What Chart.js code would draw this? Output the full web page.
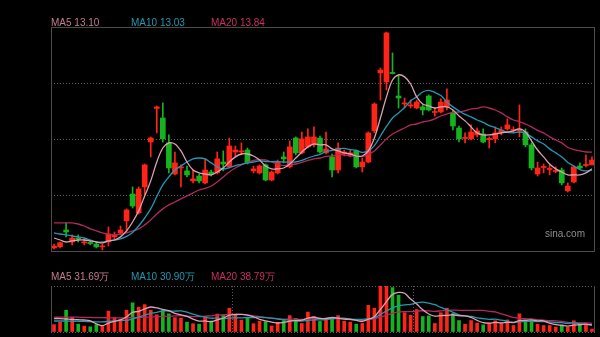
<!DOCTYPE html>
<html>
<head>
<meta charset="utf-8">
<script src="https://cdn.jsdelivr.net/npm/chart.js@4.4.1/dist/chart.umd.min.js"></script>
<style>
  html, body { margin: 0; padding: 0; background: #000; width: 600px; height: 337px; overflow: hidden; }
  #wrap { position: relative; width: 600px; height: 337px; background: #000; }
  .box { position: absolute; left: 0; width: 600px; }
  .lbl { position: absolute; font: 10px "Liberation Sans", Arial, sans-serif; line-height: 10px; white-space: nowrap; }
</style>
</head>
<body>
<div id="wrap">
  <div class="box" style="top:0;height:260px"><canvas id="kline"></canvas></div>
  <div class="box" style="top:260px;height:77px"><canvas id="volume"></canvas></div>

  <div class="lbl" style="left:51px;top:17.5px;color:#c27c8d">MA5 13.10</div>
  <div class="lbl" style="left:131px;top:17.5px;color:#2298b0">MA10 13.03</div>
  <div class="lbl" style="left:211px;top:17.5px;color:#c82f66">MA20 13.84</div>

  <div class="lbl" style="left:51px;top:271.5px;color:#c27c8d">MA5 31.69万</div>
  <div class="lbl" style="left:131px;top:271.5px;color:#2298b0">MA10 30.90万</div>
  <div class="lbl" style="left:211px;top:271.5px;color:#c82f66">MA20 38.79万</div>

  <div class="lbl" style="left:545px;top:228.5px;color:#8e8e8e">sina.com</div>
</div>

<script>
// ---- daily prices (90 sessions) ----
const opens = [
  9.53, 9.59, 10.34, 9.80, 9.98, 9.76, 9.78, 9.71, 9.58, 9.80,
  10.03, 10.21, 10.75, 11.96, 11.11, 12.28, 14.30, 15.81, 15.38, 14.26,
  12.86, 13.13, 13.00, 12.55, 12.77, 12.46, 12.95, 12.91, 13.40, 13.18,
  13.85, 13.85, 13.94, 13.00, 12.91, 13.27, 12.59, 12.91, 13.63, 13.18,
  14.48, 13.81, 14.08, 14.17, 14.48, 13.81, 13.63, 13.04, 13.76, 13.72,
  13.90, 13.18, 13.40, 14.80, 17.41, 17.00, 17.43, 16.37, 16.01, 15.92,
  15.83, 15.88, 16.37, 15.63, 15.65, 15.88, 15.61, 14.93, 14.46, 14.44,
  14.62, 14.66, 14.41, 14.44, 14.71, 14.89, 14.82, 14.80, 14.75, 14.17,
  12.86, 13.15, 13.06, 12.97, 13.04, 12.10, 12.50, 13.22, 13.24, 13.27
];
const closes = [
  9.62, 9.77, 10.25, 9.98, 9.94, 9.80, 9.73, 9.58, 9.60, 10.16,
  10.12, 10.34, 11.24, 11.42, 12.19, 13.27, 14.48, 15.88, 14.44, 13.13,
  13.36, 13.18, 12.82, 12.64, 12.55, 13.04, 12.86, 13.54, 13.31, 14.12,
  13.94, 13.90, 13.36, 13.09, 13.22, 12.59, 12.95, 13.40, 13.54, 14.08,
  13.81, 14.44, 14.53, 14.53, 13.85, 13.99, 13.04, 14.03, 13.85, 13.81,
  13.18, 13.40, 14.71, 16.01, 17.54, 19.21, 17.38, 16.28, 16.06, 15.97,
  16.10, 15.74, 15.74, 15.67, 16.10, 16.19, 15.02, 14.44, 14.50, 14.75,
  14.80, 14.30, 14.46, 14.71, 14.84, 15.07, 14.86, 14.89, 14.17, 13.13,
  13.13, 13.20, 13.11, 13.02, 12.46, 12.32, 13.18, 13.13, 13.29, 13.49
];
const highs = [
  9.71, 9.80, 10.66, 10.12, 10.12, 9.94, 9.89, 9.76, 9.71, 10.48,
  10.25, 10.52, 11.29, 12.28, 12.28, 13.31, 14.53, 15.92, 16.06, 14.62,
  13.85, 13.27, 13.22, 13.04, 12.86, 13.54, 13.04, 13.85, 13.90, 14.48,
  14.12, 14.26, 14.03, 13.22, 13.27, 13.31, 13.00, 13.49, 13.85, 14.35,
  14.53, 14.75, 14.89, 14.98, 14.57, 14.75, 13.76, 14.26, 13.94, 13.94,
  13.94, 13.58, 14.75, 16.06, 17.63, 19.25, 18.31, 17.32, 16.28, 16.19,
  16.19, 15.97, 16.42, 15.83, 16.24, 16.69, 15.74, 15.02, 14.71, 15.07,
  14.93, 14.89, 14.53, 14.98, 14.98, 15.34, 14.98, 15.97, 14.89, 14.26,
  13.40, 13.31, 13.27, 13.18, 13.13, 12.46, 13.22, 13.36, 13.72, 13.63
];
const lows = [
  9.49, 9.53, 10.03, 9.67, 9.80, 9.67, 9.67, 9.53, 9.44, 9.62,
  9.94, 10.12, 10.25, 11.33, 11.06, 11.92, 13.63, 14.71, 14.30, 12.91,
  12.82, 12.28, 12.73, 12.46, 12.46, 12.41, 12.77, 12.86, 13.00, 13.13,
  13.63, 13.72, 13.31, 12.91, 12.86, 12.55, 12.55, 12.86, 13.36, 13.13,
  13.72, 13.76, 14.03, 14.08, 13.81, 13.76, 12.73, 12.91, 13.67, 13.63,
  13.13, 12.95, 13.36, 14.71, 16.19, 16.64, 17.36, 15.83, 15.83, 15.83,
  15.79, 15.52, 15.70, 15.47, 15.61, 15.74, 14.84, 14.30, 14.26, 14.39,
  14.53, 14.26, 14.03, 14.26, 14.62, 14.84, 14.71, 14.53, 14.08, 13.04,
  12.77, 12.91, 12.82, 12.91, 12.37, 12.05, 12.46, 13.09, 13.18, 13.27
];

// ---- price moving averages ----
const ma5 = [
  9.98, 9.89, 9.80, 9.85, 9.89, 9.89, 9.85, 9.80, 9.76, 9.85,
  9.89, 10.03, 10.30, 10.70, 11.20, 11.87, 12.55, 13.40, 14.03, 14.26,
  14.21, 13.90, 13.40, 13.04, 12.91, 12.86, 12.82, 12.95, 13.13, 13.40,
  13.63, 13.76, 13.76, 13.67, 13.49, 13.22, 13.09, 13.09, 13.13, 13.31,
  13.58, 13.85, 14.08, 14.21, 14.17, 14.17, 13.99, 13.90, 13.81, 13.76,
  13.67, 13.67, 13.90, 14.48, 15.38, 16.33, 17.09, 17.32, 17.23, 16.91,
  16.33, 16.01, 15.92, 15.83, 15.88, 15.88, 15.74, 15.47, 15.25, 14.98,
  14.71, 14.62, 14.62, 14.66, 14.71, 14.75, 14.80, 14.89, 14.75, 14.35,
  13.94, 13.63, 13.31, 13.09, 12.95, 12.82, 12.82, 12.82, 12.91, 13.10
];
const ma10 = [
  10.21, 10.16, 10.12, 10.07, 10.03, 9.98, 9.89, 9.80, 9.80, 9.85,
  9.89, 9.94, 10.05, 10.23, 10.52, 10.88, 11.29, 11.85, 12.37, 12.73,
  13.04, 13.22, 13.40, 13.54, 13.58, 13.54, 13.36, 13.18, 13.09, 13.15,
  13.24, 13.29, 13.36, 13.40, 13.45, 13.42, 13.42, 13.42, 13.40, 13.40,
  13.40, 13.47, 13.58, 13.67, 13.74, 13.87, 13.92, 13.99, 14.01, 13.96,
  13.92, 13.83, 13.90, 14.14, 14.57, 15.00, 15.38, 15.61, 15.85, 16.15,
  16.33, 16.55, 16.62, 16.53, 16.39, 16.10, 15.88, 15.70, 15.54, 15.43,
  15.29, 15.18, 15.04, 14.95, 14.84, 14.73, 14.71, 14.75, 14.71, 14.53,
  14.35, 14.21, 13.99, 13.81, 13.63, 13.38, 13.22, 13.06, 13.00, 13.03
];
const ma20 = [
  10.66, 10.66, 10.66, 10.66, 10.61, 10.52, 10.39, 10.30, 10.21, 10.16,
  10.12, 10.16, 10.21, 10.30, 10.39, 10.57, 10.79, 11.06, 11.29, 11.47,
  11.60, 11.74, 11.87, 12.01, 12.14, 12.21, 12.32, 12.50, 12.73, 12.95,
  13.13, 13.27, 13.38, 13.47, 13.51, 13.49, 13.40, 13.31, 13.24, 13.27,
  13.31, 13.38, 13.47, 13.54, 13.58, 13.65, 13.67, 13.72, 13.72, 13.67,
  13.67, 13.65, 13.74, 13.90, 14.17, 14.44, 14.66, 14.80, 14.93, 15.07,
  15.11, 15.20, 15.25, 15.34, 15.47, 15.56, 15.63, 15.65, 15.70, 15.79,
  15.81, 15.88, 15.83, 15.74, 15.61, 15.43, 15.29, 15.22, 15.11, 14.98,
  14.82, 14.71, 14.53, 14.39, 14.26, 14.05, 13.96, 13.90, 13.85, 13.84
];

// ---- volume, in 万 shares ----
const volumes = [
  33, 43, 97, 66, 35, 26, 23, 33, 25, 93,
  64, 56, 97, 130, 111, 122, 97, 77, 97, 81,
  64, 62, 44, 37, 35, 68, 49, 80, 74, 106,
  80, 53, 64, 37, 48, 46, 27, 43, 51, 73,
  60, 38, 89, 69, 47, 58, 60, 73, 48, 44,
  35, 38, 119, 106, 205, 210, 198, 164, 86, 75,
  100, 69, 72, 38, 86, 106, 82, 51, 35, 51,
  40, 32, 40, 50, 40, 54, 29, 81, 54, 51,
  35, 29, 29, 22, 32, 21, 50, 37, 35, 13
];
const volMa5 = [
  60, 60, 58, 56, 54.8, 53.4, 49.4, 36.6, 28.4, 40,
  47.6, 54.2, 67, 88, 91.6, 103.2, 111.4, 107.4, 100.8, 94.8,
  83.2, 76.2, 69.6, 57.6, 48.4, 49.2, 46.6, 53.8, 61.2, 75.4,
  77.8, 78.6, 75.4, 68, 56.4, 49.6, 44.4, 40.2, 43, 48,
  50.8, 53, 62.2, 65.8, 60.6, 60.2, 64.6, 61.4, 57.2, 56.6,
  52, 47.6, 56.8, 68.4, 100.6, 135.6, 167.6, 176.6, 172.6, 146.6,
  124.6, 98.8, 80.4, 70.8, 73, 74.2, 76.8, 72.6, 72, 65,
  51.8, 41.8, 39.6, 42.6, 40.4, 43.2, 42.6, 50.8, 51.6, 53.8,
  50, 50, 39.6, 33.2, 29.4, 26.6, 30.8, 32.4, 35, 31.69
];
const volMa10 = [
  49, 49, 49, 48, 48, 47, 46, 45, 45, 47.4,
  50.5, 51.8, 51.8, 58.2, 65.8, 75.4, 82.8, 87.2, 94.4, 93.2,
  93.2, 93.8, 88.5, 79.2, 71.6, 66.2, 61.4, 61.7, 59.4, 61.9,
  63.5, 62.6, 64.6, 64.6, 65.9, 63.7, 61.5, 57.8, 55.5, 52.2,
  50.2, 48.7, 51.2, 54.4, 54.3, 55.5, 58.8, 61.8, 61.5, 58.6,
  56.1, 56.1, 59.1, 62.8, 78.6, 93.8, 107.6, 116.7, 120.5, 123.6,
  130.1, 133.2, 128.5, 121.7, 109.8, 99.4, 87.8, 76.5, 71.4, 69,
  63, 59.3, 56.1, 57.3, 52.7, 47.5, 42.2, 45.2, 47.1, 47.1,
  46.6, 46.3, 45.2, 42.4, 41.6, 38.3, 40.4, 36, 34.1, 30.9
];
const volMa20 = [
  66, 66, 66, 66, 66, 65, 65, 64, 64, 63,
  63, 63, 63, 64, 65, 66, 67, 68, 69, 70.3,
  71.9, 72.8, 70.2, 68.7, 68.7, 70.8, 72.1, 74.5, 76.9, 77.6,
  78.4, 78.2, 76.6, 71.9, 68.8, 65, 61.5, 59.8, 57.5, 57.1,
  56.9, 55.7, 57.9, 59.5, 60.1, 59.6, 60.2, 59.8, 58.5, 55.4,
  53.2, 52.4, 55.2, 58.6, 66.5, 74.7, 83.2, 89.3, 91, 91.1,
  93.1, 94.7, 93.8, 92.3, 94.2, 96.6, 97.7, 96.6, 96, 96.3,
  96.6, 96.3, 92.3, 89.5, 81.3, 73.5, 65, 60.9, 59.3, 58.1,
  54.8, 52.8, 50.7, 49.9, 47.2, 42.9, 41.3, 40.6, 40.6, 38.79
];

// session labels (not displayed)
const sessions = opens.map((_, i) => 'D' + (i + 1));
// month boundaries marked in the volume panel
const monthStarts = [30, 60];

const RED = '#ff2417';
const GREEN = '#15b41e';
const C_MA5 = '#dba2b4';
const C_MA10 = '#2199b3';
const C_MA20 = '#b12a5f';
const GRID = '#5c5c5c';
const FRAME = '#4c4c4c';

const candleColor = closes.map((c, i) => (c >= opens[i] ? RED : GREEN));
const wickData = lows.map((l, i) => [l, highs[i]]);
const bodyData = opens.map((o, i) => [o, closes[i]]);

Chart.defaults.animation = false;
Chart.defaults.devicePixelRatio = 1;

// border of each panel: solid sides, optional solid top/bottom
const panelFrame = {
  id: 'panelFrame',
  afterDatasetsDraw(chart, args, opts) {
    const { ctx, chartArea: a } = chart;
    const l = Math.round(a.left) + 0.5;
    const r = Math.round(a.right) - 0.5;
    const t = Math.round(a.top) + 0.5;
    const b = Math.round(a.bottom) - 0.5;
    ctx.save();
    ctx.strokeStyle = opts.color || FRAME;
    ctx.lineWidth = 1;
    ctx.beginPath();
    ctx.moveTo(l, t - 0.5); ctx.lineTo(l, b + 0.5);
    ctx.moveTo(r, t - 0.5); ctx.lineTo(r, b + 0.5);
    if (opts.full) {
      ctx.moveTo(l, t); ctx.lineTo(r, t);
      ctx.moveTo(l, b); ctx.lineTo(r, b);
    }
    ctx.stroke();
    ctx.restore();
  }
};

const lineSet = (data, color, order) => ({
  type: 'line',
  data,
  borderColor: color,
  borderWidth: 1.3,
  pointRadius: 0,
  tension: 0.35,
  fill: false,
  order
});

// ---- price panel ----
const PRICE_MIN = 9.35, PRICE_MAX = 19.475;
new Chart(document.getElementById('kline'), {
  type: 'bar',
  data: {
    labels: sessions,
    datasets: [
      {
        data: wickData,
        backgroundColor: candleColor,
        barThickness: 1,
        grouped: false,
        order: 5
      },
      {
        data: bodyData,
        backgroundColor: candleColor,
        barThickness: 5,
        minBarLength: 1,
        grouped: false,
        order: 4
      },
      lineSet(ma20, C_MA20, 3),
      lineSet(ma10, C_MA10, 2),
      lineSet(ma5, C_MA5, 1)
    ]
  },
  options: {
    responsive: true,
    maintainAspectRatio: false,
    layout: { padding: { left: 51, right: 5, top: 27, bottom: 8 } },
    plugins: {
      legend: { display: false },
      tooltip: { enabled: false },
      panelFrame: { full: true, color: FRAME }
    },
    scales: {
      x: {
        type: 'category',
        offset: true,
        display: false,
        grid: { display: false }
      },
      y: {
        min: PRICE_MIN,
        max: PRICE_MAX,
        afterBuildTicks(scale) {
          const step = (PRICE_MAX - PRICE_MIN) / 4;
          scale.ticks = [0, 1, 2, 3, 4].map(k => ({ value: PRICE_MIN + k * step }));
        },
        ticks: { display: false },
        border: { display: false, dash: [1, 2] },
        grid: {
          drawTicks: false,
          lineWidth: 1,
          color: (c) => (c.index === 0 || c.index === 4 ? 'rgba(0,0,0,0)' : GRID)
        }
      }
    }
  },
  plugins: [panelFrame]
});

// ---- volume panel ----
const VOL_MAX = 205;
new Chart(document.getElementById('volume'), {
  type: 'bar',
  data: {
    labels: sessions,
    datasets: [
      {
        data: volumes,
        backgroundColor: candleColor,
        barThickness: 3,
        grouped: false,
        clip: 0,
        order: 4
      },
      lineSet(volMa20, C_MA20, 3),
      lineSet(volMa10, C_MA10, 2),
      lineSet(volMa5, C_MA5, 1)
    ]
  },
  options: {
    responsive: true,
    maintainAspectRatio: false,
    layout: { padding: { left: 51, right: 5, top: 26, bottom: 5 } },
    plugins: {
      legend: { display: false },
      tooltip: { enabled: false },
      panelFrame: { full: false, color: FRAME }
    },
    scales: {
      x: {
        type: 'category',
        offset: true,
        ticks: { display: false, autoSkip: false },
        border: { display: false, dash: [1, 2] },
        grid: {
          offset: true,
          drawTicks: false,
          color: (c) => (monthStarts.includes(c.index) ? GRID : 'rgba(0,0,0,0)')
        }
      },
      y: {
        min: 0,
        max: VOL_MAX,
        afterBuildTicks(scale) {
          scale.ticks = [{ value: 0 }, { value: VOL_MAX }];
        },
        ticks: { display: false },
        border: { display: false, dash: [1, 2] },
        grid: { drawTicks: false, color: GRID }
      }
    }
  },
  plugins: [panelFrame]
});
</script>
</body>
</html>
